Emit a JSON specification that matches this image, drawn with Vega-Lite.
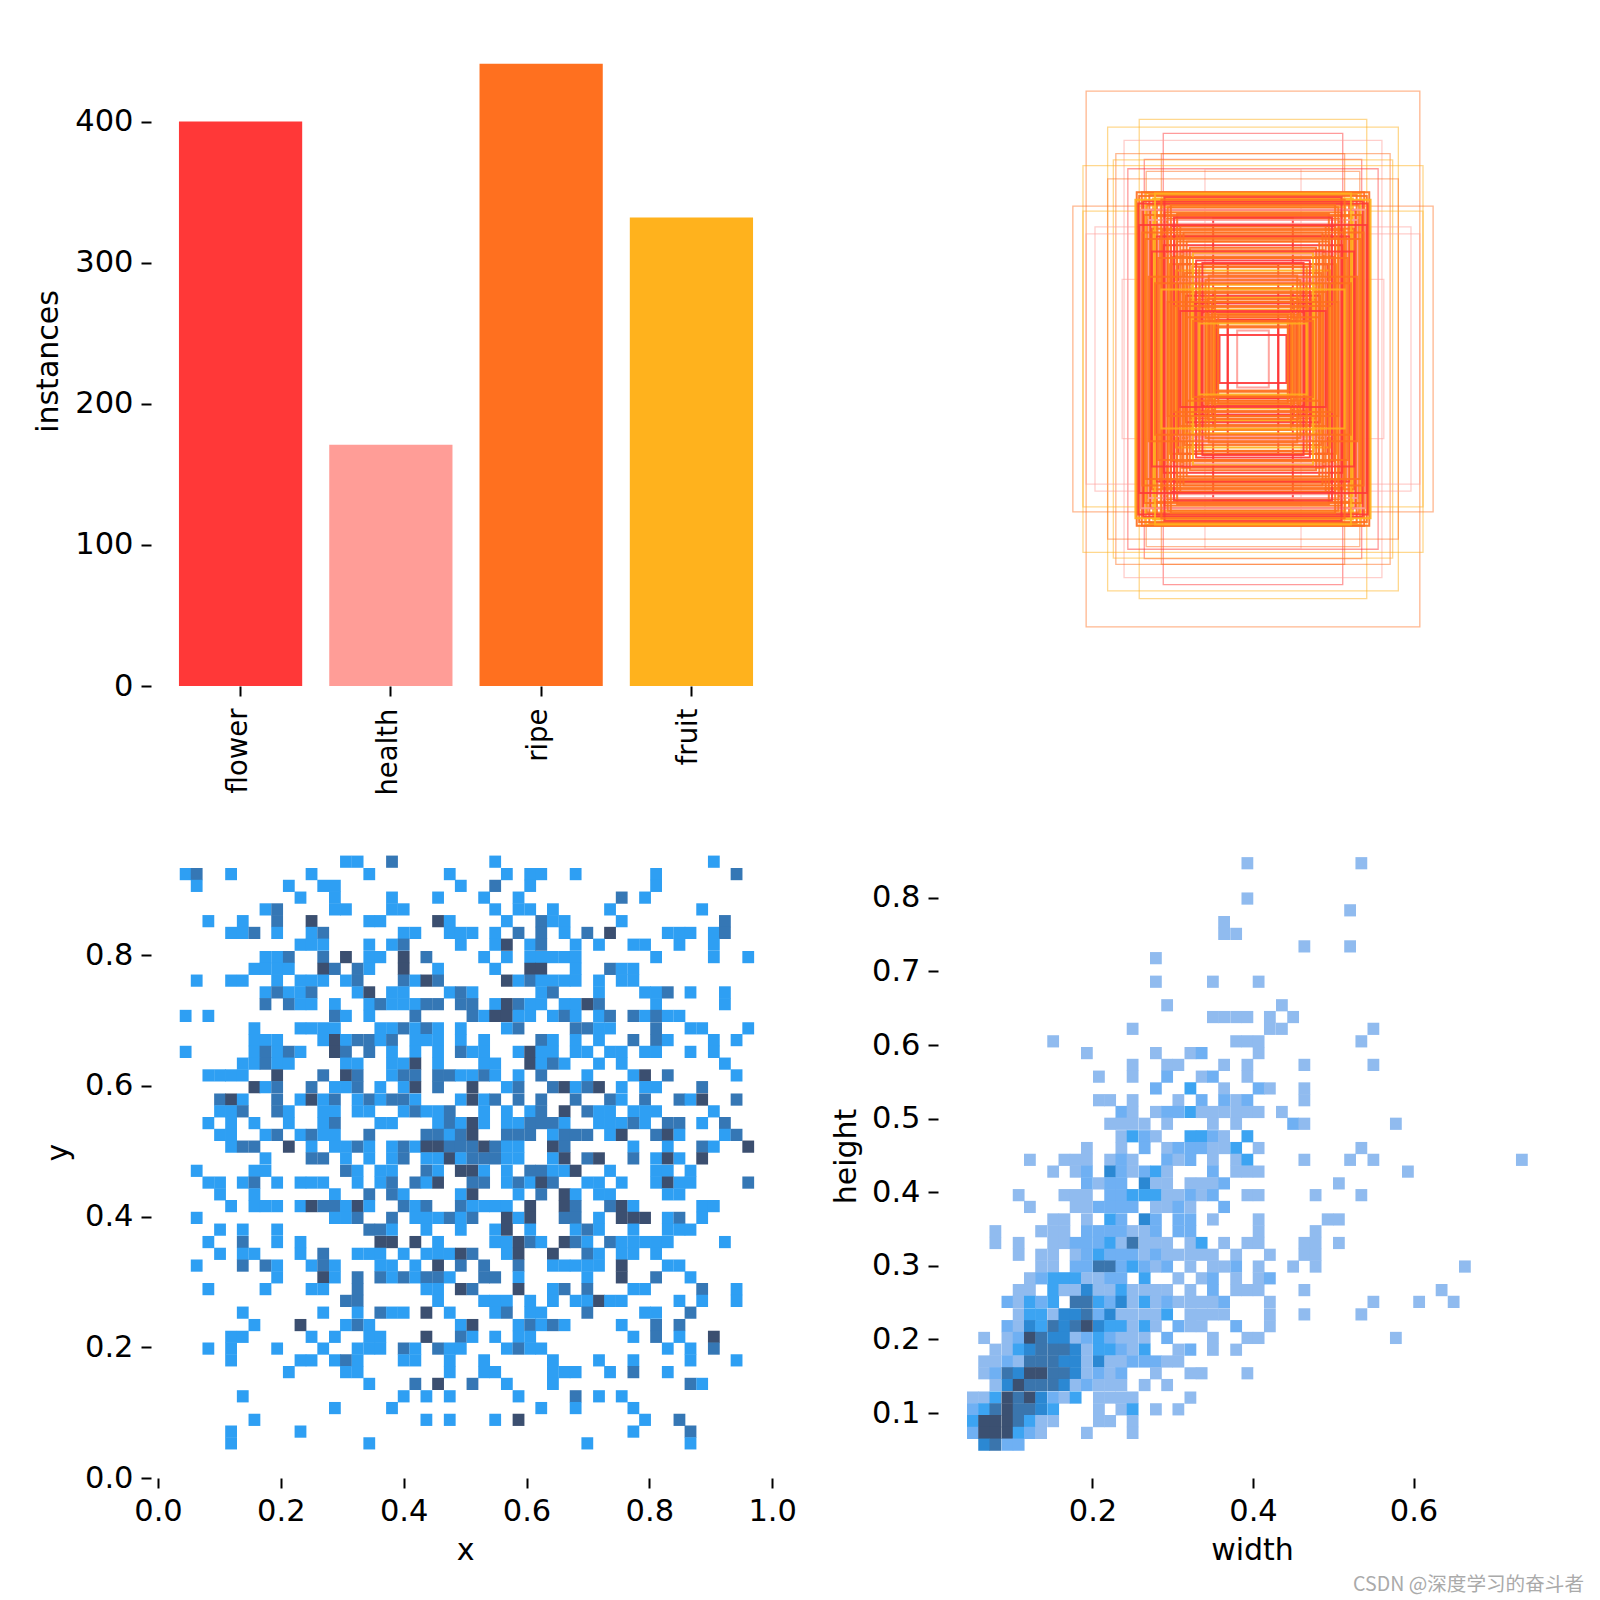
{
"$schema":"https://vega.github.io/schema/vega-lite/v6.json",
"padding":{"left":33,"top":43,"right":0,"bottom":0},
"background":"white",
"title":{"text":"CSDN @深度学习的奋斗者","orient":"bottom","anchor":"end","font":"Noto Sans CJK SC","fontSize":19.6,"fontWeight":"normal","color":"#aaaaaa","offset":10,"dx":7},
"config":{"view":{"stroke":null},"axis":{"domain":false,"grid":false,"tickColor":"black","tickSize":10,"tickWidth":2,"labelFont":"DejaVu Sans","titleFont":"DejaVu Sans","labelFontSize":30.5,"titleFontSize":30,"labelColor":"black","titleColor":"black","titleFontWeight":"normal","labelPadding":8,"labelOverlap":false}},
"datasets":{
"bars":[{"name":"flower","count":400},{"name":"health","count":171},{"name":"ripe","count":441},{"name":"fruit","count":332}],
"boxes":[
{"cls":"ripe","x1":0.236,"x2":0.764,"y1":0.076,"y2":0.924},{"cls":"fruit","x1":0.32,"x2":0.68,"y1":0.121,"y2":0.879},{"cls":"fruit","x1":0.27,"x2":0.73,"y1":0.133,"y2":0.867},{"cls":"flower","x1":0.358,"x2":0.642,"y1":0.143,"y2":0.857},{"cls":"health","x1":0.296,"x2":0.704,"y1":0.154,"y2":0.846},{"cls":"ripe","x1":0.283,"x2":0.717,"y1":0.175,"y2":0.825},{"cls":"ripe","x1":0.355,"x2":0.645,"y1":0.175,"y2":0.825},{"cls":"flower","x1":0.328,"x2":0.672,"y1":0.184,"y2":0.816},{"cls":"fruit","x1":0.231,"x2":0.769,"y1":0.194,"y2":0.806},{"cls":"fruit","x1":0.279,"x2":0.721,"y1":0.185,"y2":0.815},{"cls":"flower","x1":0.302,"x2":0.698,"y1":0.199,"y2":0.801},{"cls":"health","x1":0.424,"x2":0.576,"y1":0.199,"y2":0.801},{"cls":"ripe","x1":0.331,"x2":0.669,"y1":0.203,"y2":0.797},{"cls":"ripe","x1":0.27,"x2":0.73,"y1":0.215,"y2":0.785},{"cls":"ripe","x1":0.215,"x2":0.785,"y1":0.258,"y2":0.742},{"cls":"fruit","x1":0.231,"x2":0.769,"y1":0.266,"y2":0.734},{"cls":"health","x1":0.25,"x2":0.75,"y1":0.291,"y2":0.709},{"cls":"health","x1":0.236,"x2":0.764,"y1":0.302,"y2":0.698},{"cls":"health","x1":0.293,"x2":0.707,"y1":0.374,"y2":0.626},{"cls":"flower","x1":0.437,"x2":0.563,"y1":0.277,"y2":0.723},{"cls":"flower","x1":0.46,"x2":0.54,"y1":0.35,"y2":0.65},{"cls":"health","x1":0.475,"x2":0.525,"y1":0.455,"y2":0.545},{"cls":"flower","x1":0.46,"x2":0.54,"y1":0.438,"y2":0.562},{"cls":"flower","x1":0.447,"x2":0.553,"y1":0.462,"y2":0.538},
{"cls":"ripe","x1":0.444,"x2":0.556,"y1":0.448,"y2":0.552},{"cls":"flower","x1":0.442,"x2":0.558,"y1":0.438,"y2":0.562},{"cls":"ripe","x1":0.44,"x2":0.56,"y1":0.45,"y2":0.55},{"cls":"fruit","x1":0.438,"x2":0.562,"y1":0.428,"y2":0.572},{"cls":"ripe","x1":0.436,"x2":0.564,"y1":0.442,"y2":0.558},{"cls":"health","x1":0.434,"x2":0.566,"y1":0.416,"y2":0.584},{"cls":"ripe","x1":0.432,"x2":0.568,"y1":0.434,"y2":0.566},{"cls":"flower","x1":0.43,"x2":0.57,"y1":0.44,"y2":0.56},{"cls":"ripe","x1":0.428,"x2":0.572,"y1":0.404,"y2":0.596},{"cls":"fruit","x1":0.426,"x2":0.574,"y1":0.422,"y2":0.578},{"cls":"ripe","x1":0.424,"x2":0.576,"y1":0.43,"y2":0.57},{"cls":"health","x1":0.422,"x2":0.578,"y1":0.392,"y2":0.608},{"cls":"ripe","x1":0.42,"x2":0.58,"y1":0.41,"y2":0.59},{"cls":"flower","x1":0.418,"x2":0.582,"y1":0.426,"y2":0.574},{"cls":"ripe","x1":0.416,"x2":0.584,"y1":0.382,"y2":0.618},{"cls":"fruit","x1":0.414,"x2":0.586,"y1":0.402,"y2":0.598},{"cls":"ripe","x1":0.412,"x2":0.588,"y1":0.418,"y2":0.582},{"cls":"health","x1":0.41,"x2":0.59,"y1":0.368,"y2":0.632},{"cls":"ripe","x1":0.408,"x2":0.592,"y1":0.396,"y2":0.604},{"cls":"flower","x1":0.406,"x2":0.594,"y1":0.412,"y2":0.588},{"cls":"ripe","x1":0.404,"x2":0.596,"y1":0.354,"y2":0.646},{"cls":"fruit","x1":0.402,"x2":0.598,"y1":0.388,"y2":0.612},{"cls":"ripe","x1":0.4,"x2":0.6,"y1":0.406,"y2":0.594},{"cls":"health","x1":0.398,"x2":0.602,"y1":0.376,"y2":0.624},{"cls":"ripe","x1":0.396,"x2":0.604,"y1":0.34,"y2":0.66},{"cls":"flower","x1":0.394,"x2":0.606,"y1":0.4,"y2":0.6},{"cls":"ripe","x1":0.392,"x2":0.608,"y1":0.364,"y2":0.636},{"cls":"fruit","x1":0.39,"x2":0.61,"y1":0.382,"y2":0.618},{"cls":"ripe","x1":0.388,"x2":0.612,"y1":0.328,"y2":0.672},{"cls":"health","x1":0.386,"x2":0.614,"y1":0.372,"y2":0.628},{"cls":"ripe","x1":0.384,"x2":0.616,"y1":0.394,"y2":0.606},{"cls":"flower","x1":0.382,"x2":0.618,"y1":0.35,"y2":0.65},{"cls":"ripe","x1":0.38,"x2":0.62,"y1":0.314,"y2":0.686},{"cls":"fruit","x1":0.378,"x2":0.622,"y1":0.36,"y2":0.64},{"cls":"ripe","x1":0.376,"x2":0.624,"y1":0.304,"y2":0.696},{"cls":"health","x1":0.374,"x2":0.626,"y1":0.378,"y2":0.622},{"cls":"ripe","x1":0.372,"x2":0.628,"y1":0.338,"y2":0.662},{"cls":"flower","x1":0.37,"x2":0.63,"y1":0.29,"y2":0.71},{"cls":"ripe","x1":0.368,"x2":0.632,"y1":0.35,"y2":0.65},{"cls":"fruit","x1":0.366,"x2":0.634,"y1":0.308,"y2":0.692},{"cls":"ripe","x1":0.364,"x2":0.636,"y1":0.278,"y2":0.722},{"cls":"health","x1":0.362,"x2":0.638,"y1":0.334,"y2":0.666},
{"cls":"ripe","x1":0.36,"x2":0.64,"y1":0.268,"y2":0.732},{"cls":"flower","x1":0.358,"x2":0.642,"y1":0.32,"y2":0.68},{"cls":"ripe","x1":0.356,"x2":0.644,"y1":0.296,"y2":0.704},{"cls":"fruit","x1":0.354,"x2":0.646,"y1":0.26,"y2":0.74},{"cls":"ripe","x1":0.352,"x2":0.648,"y1":0.306,"y2":0.694},{"cls":"health","x1":0.35,"x2":0.65,"y1":0.286,"y2":0.714},{"cls":"ripe","x1":0.348,"x2":0.652,"y1":0.252,"y2":0.748},{"cls":"flower","x1":0.346,"x2":0.654,"y1":0.306,"y2":0.694},{"cls":"ripe","x1":0.344,"x2":0.656,"y1":0.274,"y2":0.726},{"cls":"fruit","x1":0.342,"x2":0.658,"y1":0.246,"y2":0.754},{"cls":"ripe","x1":0.34,"x2":0.66,"y1":0.294,"y2":0.706},{"cls":"flower","x1":0.338,"x2":0.662,"y1":0.264,"y2":0.736},{"cls":"ripe","x1":0.336,"x2":0.664,"y1":0.24,"y2":0.76},{"cls":"health","x1":0.334,"x2":0.666,"y1":0.28,"y2":0.72},{"cls":"ripe","x1":0.332,"x2":0.668,"y1":0.256,"y2":0.744},{"cls":"fruit","x1":0.33,"x2":0.67,"y1":0.238,"y2":0.762},{"cls":"ripe","x1":0.328,"x2":0.672,"y1":0.272,"y2":0.728},{"cls":"flower","x1":0.326,"x2":0.674,"y1":0.25,"y2":0.75},{"cls":"ripe","x1":0.324,"x2":0.676,"y1":0.236,"y2":0.764},{"cls":"health","x1":0.322,"x2":0.678,"y1":0.264,"y2":0.736},{"cls":"ripe","x1":0.32,"x2":0.68,"y1":0.242,"y2":0.758},{"cls":"flower","x1":0.318,"x2":0.682,"y1":0.254,"y2":0.746},{"cls":"ripe","x1":0.316,"x2":0.684,"y1":0.236,"y2":0.764},{"cls":"fruit","x1":0.314,"x2":0.686,"y1":0.248,"y2":0.752},
{"cls":"ripe","x1":0.39,"x2":0.61,"y1":0.3,"y2":0.7},{"cls":"ripe","x1":0.4,"x2":0.6,"y1":0.324,"y2":0.676},{"cls":"flower","x1":0.41,"x2":0.59,"y1":0.344,"y2":0.656},{"cls":"ripe","x1":0.38,"x2":0.62,"y1":0.27,"y2":0.73},{"cls":"ripe","x1":0.37,"x2":0.63,"y1":0.256,"y2":0.744},{"cls":"flower","x1":0.36,"x2":0.64,"y1":0.244,"y2":0.756},{"cls":"ripe","x1":0.425,"x2":0.575,"y1":0.375,"y2":0.625},{"cls":"ripe","x1":0.415,"x2":0.585,"y1":0.355,"y2":0.645},{"cls":"fruit","x1":0.405,"x2":0.595,"y1":0.332,"y2":0.668},{"cls":"ripe","x1":0.395,"x2":0.605,"y1":0.314,"y2":0.686},{"cls":"ripe","x1":0.385,"x2":0.615,"y1":0.29,"y2":0.71},{"cls":"flower","x1":0.375,"x2":0.625,"y1":0.276,"y2":0.724},{"cls":"ripe","x1":0.365,"x2":0.635,"y1":0.26,"y2":0.74},{"cls":"ripe","x1":0.355,"x2":0.645,"y1":0.248,"y2":0.752},{"cls":"fruit","x1":0.345,"x2":0.655,"y1":0.238,"y2":0.762},{"cls":"ripe","x1":0.44,"x2":0.56,"y1":0.388,"y2":0.612},{"cls":"ripe","x1":0.43,"x2":0.57,"y1":0.368,"y2":0.632},{"cls":"flower","x1":0.42,"x2":0.58,"y1":0.348,"y2":0.652},{"cls":"ripe","x1":0.435,"x2":0.565,"y1":0.41,"y2":0.59},{"cls":"ripe","x1":0.445,"x2":0.555,"y1":0.43,"y2":0.57},{"cls":"ripe","x1":0.35,"x2":0.65,"y1":0.34,"y2":0.66},{"cls":"flower","x1":0.34,"x2":0.66,"y1":0.33,"y2":0.67},{"cls":"ripe","x1":0.33,"x2":0.67,"y1":0.31,"y2":0.69},{"cls":"ripe","x1":0.325,"x2":0.675,"y1":0.3,"y2":0.7},{"cls":"flower","x1":0.32,"x2":0.68,"y1":0.288,"y2":0.712},{"cls":"ripe","x1":0.335,"x2":0.665,"y1":0.37,"y2":0.63},{"cls":"ripe","x1":0.345,"x2":0.655,"y1":0.38,"y2":0.62},{"cls":"fruit","x1":0.355,"x2":0.645,"y1":0.39,"y2":0.61},{"cls":"ripe","x1":0.365,"x2":0.635,"y1":0.41,"y2":0.59},{"cls":"ripe","x1":0.375,"x2":0.625,"y1":0.416,"y2":0.584},{"cls":"flower","x1":0.385,"x2":0.615,"y1":0.424,"y2":0.576},{"cls":"ripe","x1":0.395,"x2":0.605,"y1":0.434,"y2":0.566},{"cls":"ripe","x1":0.405,"x2":0.595,"y1":0.44,"y2":0.56},{"cls":"fruit","x1":0.415,"x2":0.585,"y1":0.444,"y2":0.556}
],
"xy":[
{"x":0.306,"y":0.943,"n":1},{"x":0.325,"y":0.943,"n":1},{"x":0.381,"y":0.943,"n":2},{"x":0.549,"y":0.943,"n":1},{"x":0.905,"y":0.943,"n":1},
{"x":0.045,"y":0.924,"n":1},{"x":0.063,"y":0.924,"n":2},{"x":0.119,"y":0.924,"n":1},{"x":0.25,"y":0.924,"n":1},{"x":0.344,"y":0.924,"n":1},{"x":0.475,"y":0.924,"n":1},{"x":0.568,"y":0.924,"n":1},{"x":0.606,"y":0.924,"n":1},{"x":0.624,"y":0.924,"n":1},{"x":0.68,"y":0.924,"n":1},{"x":0.811,"y":0.924,"n":1},{"x":0.942,"y":0.924,"n":2},
{"x":0.063,"y":0.906,"n":1},{"x":0.213,"y":0.906,"n":1},{"x":0.269,"y":0.906,"n":1},{"x":0.288,"y":0.906,"n":1},{"x":0.493,"y":0.906,"n":1},{"x":0.549,"y":0.906,"n":2},{"x":0.606,"y":0.906,"n":1},{"x":0.811,"y":0.906,"n":1},
{"x":0.232,"y":0.888,"n":1},{"x":0.288,"y":0.888,"n":1},{"x":0.381,"y":0.888,"n":1},{"x":0.456,"y":0.888,"n":1},{"x":0.531,"y":0.888,"n":1},{"x":0.587,"y":0.888,"n":1},{"x":0.755,"y":0.888,"n":2},{"x":0.793,"y":0.888,"n":1},
{"x":0.175,"y":0.87,"n":1},{"x":0.194,"y":0.87,"n":2},{"x":0.288,"y":0.87,"n":1},{"x":0.306,"y":0.87,"n":1},{"x":0.381,"y":0.87,"n":1},{"x":0.4,"y":0.87,"n":1},{"x":0.549,"y":0.87,"n":1},{"x":0.587,"y":0.87,"n":1},{"x":0.606,"y":0.87,"n":1},{"x":0.643,"y":0.87,"n":1},{"x":0.736,"y":0.87,"n":1},{"x":0.886,"y":0.87,"n":1},
{"x":0.082,"y":0.852,"n":1},{"x":0.138,"y":0.852,"n":1},{"x":0.194,"y":0.852,"n":2},{"x":0.25,"y":0.852,"n":3},{"x":0.344,"y":0.852,"n":1},{"x":0.362,"y":0.852,"n":1},{"x":0.456,"y":0.852,"n":3},{"x":0.475,"y":0.852,"n":1},{"x":0.568,"y":0.852,"n":1},{"x":0.624,"y":0.852,"n":2},{"x":0.643,"y":0.852,"n":1},{"x":0.662,"y":0.852,"n":1},{"x":0.755,"y":0.852,"n":1},{"x":0.923,"y":0.852,"n":2},
{"x":0.119,"y":0.834,"n":1},{"x":0.138,"y":0.834,"n":1},{"x":0.157,"y":0.834,"n":2},{"x":0.194,"y":0.834,"n":1},{"x":0.25,"y":0.834,"n":1},{"x":0.269,"y":0.834,"n":2},{"x":0.4,"y":0.834,"n":1},{"x":0.419,"y":0.834,"n":1},{"x":0.475,"y":0.834,"n":1},{"x":0.493,"y":0.834,"n":1},{"x":0.512,"y":0.834,"n":1},{"x":0.549,"y":0.834,"n":1},{"x":0.587,"y":0.834,"n":2},{"x":0.624,"y":0.834,"n":2},{"x":0.662,"y":0.834,"n":1},{"x":0.699,"y":0.834,"n":2},{"x":0.736,"y":0.834,"n":3},{"x":0.83,"y":0.834,"n":1},{"x":0.849,"y":0.834,"n":1},{"x":0.867,"y":0.834,"n":1},{"x":0.905,"y":0.834,"n":1},{"x":0.923,"y":0.834,"n":2},
{"x":0.232,"y":0.816,"n":1},{"x":0.25,"y":0.816,"n":1},{"x":0.269,"y":0.816,"n":1},{"x":0.344,"y":0.816,"n":1},{"x":0.381,"y":0.816,"n":1},{"x":0.4,"y":0.816,"n":2},{"x":0.493,"y":0.816,"n":1},{"x":0.549,"y":0.816,"n":1},{"x":0.568,"y":0.816,"n":3},{"x":0.606,"y":0.816,"n":1},{"x":0.624,"y":0.816,"n":2},{"x":0.68,"y":0.816,"n":1},{"x":0.718,"y":0.816,"n":1},{"x":0.774,"y":0.816,"n":1},{"x":0.793,"y":0.816,"n":1},{"x":0.849,"y":0.816,"n":1},{"x":0.905,"y":0.816,"n":1},
{"x":0.175,"y":0.797,"n":1},{"x":0.194,"y":0.797,"n":1},{"x":0.213,"y":0.797,"n":2},{"x":0.269,"y":0.797,"n":2},{"x":0.306,"y":0.797,"n":3},{"x":0.344,"y":0.797,"n":1},{"x":0.362,"y":0.797,"n":1},{"x":0.4,"y":0.797,"n":3},{"x":0.437,"y":0.797,"n":2},{"x":0.531,"y":0.797,"n":1},{"x":0.568,"y":0.797,"n":1},{"x":0.606,"y":0.797,"n":1},{"x":0.624,"y":0.797,"n":1},{"x":0.643,"y":0.797,"n":1},{"x":0.662,"y":0.797,"n":1},{"x":0.68,"y":0.797,"n":1},{"x":0.811,"y":0.797,"n":1},{"x":0.905,"y":0.797,"n":1},{"x":0.961,"y":0.797,"n":1},
{"x":0.157,"y":0.779,"n":1},{"x":0.175,"y":0.779,"n":1},{"x":0.194,"y":0.779,"n":1},{"x":0.213,"y":0.779,"n":1},{"x":0.269,"y":0.779,"n":3},{"x":0.288,"y":0.779,"n":2},{"x":0.325,"y":0.779,"n":2},{"x":0.344,"y":0.779,"n":1},{"x":0.4,"y":0.779,"n":3},{"x":0.456,"y":0.779,"n":1},{"x":0.549,"y":0.779,"n":1},{"x":0.606,"y":0.779,"n":3},{"x":0.624,"y":0.779,"n":3},{"x":0.68,"y":0.779,"n":1},{"x":0.736,"y":0.779,"n":2},{"x":0.755,"y":0.779,"n":1},{"x":0.774,"y":0.779,"n":1},
{"x":0.063,"y":0.761,"n":1},{"x":0.119,"y":0.761,"n":1},{"x":0.138,"y":0.761,"n":1},{"x":0.194,"y":0.761,"n":1},{"x":0.232,"y":0.761,"n":1},{"x":0.25,"y":0.761,"n":1},{"x":0.269,"y":0.761,"n":1},{"x":0.306,"y":0.761,"n":1},{"x":0.325,"y":0.761,"n":2},{"x":0.4,"y":0.761,"n":2},{"x":0.419,"y":0.761,"n":1},{"x":0.437,"y":0.761,"n":3},{"x":0.456,"y":0.761,"n":2},{"x":0.568,"y":0.761,"n":3},{"x":0.587,"y":0.761,"n":1},{"x":0.606,"y":0.761,"n":2},{"x":0.624,"y":0.761,"n":1},{"x":0.643,"y":0.761,"n":1},{"x":0.662,"y":0.761,"n":1},{"x":0.68,"y":0.761,"n":1},{"x":0.718,"y":0.761,"n":1},{"x":0.755,"y":0.761,"n":1},{"x":0.774,"y":0.761,"n":1},
{"x":0.175,"y":0.743,"n":1},{"x":0.194,"y":0.743,"n":2},{"x":0.213,"y":0.743,"n":1},{"x":0.232,"y":0.743,"n":1},{"x":0.25,"y":0.743,"n":2},{"x":0.325,"y":0.743,"n":1},{"x":0.344,"y":0.743,"n":3},{"x":0.381,"y":0.743,"n":1},{"x":0.4,"y":0.743,"n":1},{"x":0.475,"y":0.743,"n":1},{"x":0.493,"y":0.743,"n":2},{"x":0.512,"y":0.743,"n":1},{"x":0.624,"y":0.743,"n":1},{"x":0.643,"y":0.743,"n":2},{"x":0.718,"y":0.743,"n":1},{"x":0.793,"y":0.743,"n":1},{"x":0.811,"y":0.743,"n":1},{"x":0.83,"y":0.743,"n":2},{"x":0.867,"y":0.743,"n":1},{"x":0.923,"y":0.743,"n":1},
{"x":0.175,"y":0.725,"n":2},{"x":0.213,"y":0.725,"n":2},{"x":0.232,"y":0.725,"n":1},{"x":0.25,"y":0.725,"n":1},{"x":0.288,"y":0.725,"n":1},{"x":0.344,"y":0.725,"n":1},{"x":0.362,"y":0.725,"n":2},{"x":0.381,"y":0.725,"n":1},{"x":0.4,"y":0.725,"n":1},{"x":0.419,"y":0.725,"n":1},{"x":0.437,"y":0.725,"n":2},{"x":0.456,"y":0.725,"n":2},{"x":0.493,"y":0.725,"n":2},{"x":0.512,"y":0.725,"n":2},{"x":0.549,"y":0.725,"n":1},{"x":0.568,"y":0.725,"n":3},{"x":0.587,"y":0.725,"n":2},{"x":0.606,"y":0.725,"n":1},{"x":0.624,"y":0.725,"n":1},{"x":0.662,"y":0.725,"n":1},{"x":0.68,"y":0.725,"n":1},{"x":0.699,"y":0.725,"n":3},{"x":0.718,"y":0.725,"n":2},{"x":0.811,"y":0.725,"n":1},{"x":0.923,"y":0.725,"n":1},
{"x":0.045,"y":0.707,"n":1},{"x":0.082,"y":0.707,"n":1},{"x":0.288,"y":0.707,"n":2},{"x":0.306,"y":0.707,"n":1},{"x":0.344,"y":0.707,"n":1},{"x":0.419,"y":0.707,"n":2},{"x":0.512,"y":0.707,"n":2},{"x":0.531,"y":0.707,"n":1},{"x":0.549,"y":0.707,"n":3},{"x":0.568,"y":0.707,"n":3},{"x":0.587,"y":0.707,"n":1},{"x":0.606,"y":0.707,"n":1},{"x":0.643,"y":0.707,"n":1},{"x":0.662,"y":0.707,"n":2},{"x":0.68,"y":0.707,"n":1},{"x":0.718,"y":0.707,"n":1},{"x":0.736,"y":0.707,"n":2},{"x":0.774,"y":0.707,"n":2},{"x":0.793,"y":0.707,"n":1},{"x":0.811,"y":0.707,"n":2},{"x":0.83,"y":0.707,"n":1},{"x":0.849,"y":0.707,"n":1},
{"x":0.157,"y":0.688,"n":1},{"x":0.232,"y":0.688,"n":1},{"x":0.25,"y":0.688,"n":1},{"x":0.269,"y":0.688,"n":1},{"x":0.288,"y":0.688,"n":1},{"x":0.362,"y":0.688,"n":1},{"x":0.381,"y":0.688,"n":1},{"x":0.4,"y":0.688,"n":2},{"x":0.419,"y":0.688,"n":1},{"x":0.437,"y":0.688,"n":2},{"x":0.456,"y":0.688,"n":1},{"x":0.493,"y":0.688,"n":1},{"x":0.568,"y":0.688,"n":1},{"x":0.587,"y":0.688,"n":2},{"x":0.68,"y":0.688,"n":2},{"x":0.699,"y":0.688,"n":2},{"x":0.718,"y":0.688,"n":1},{"x":0.736,"y":0.688,"n":1},{"x":0.811,"y":0.688,"n":2},{"x":0.867,"y":0.688,"n":1},{"x":0.886,"y":0.688,"n":1},{"x":0.961,"y":0.688,"n":1},
{"x":0.157,"y":0.67,"n":1},{"x":0.175,"y":0.67,"n":1},{"x":0.194,"y":0.67,"n":1},{"x":0.269,"y":0.67,"n":1},{"x":0.288,"y":0.67,"n":3},{"x":0.306,"y":0.67,"n":1},{"x":0.325,"y":0.67,"n":2},{"x":0.344,"y":0.67,"n":2},{"x":0.362,"y":0.67,"n":1},{"x":0.381,"y":0.67,"n":2},{"x":0.419,"y":0.67,"n":1},{"x":0.437,"y":0.67,"n":1},{"x":0.456,"y":0.67,"n":1},{"x":0.493,"y":0.67,"n":1},{"x":0.531,"y":0.67,"n":1},{"x":0.624,"y":0.67,"n":2},{"x":0.643,"y":0.67,"n":1},{"x":0.68,"y":0.67,"n":1},{"x":0.718,"y":0.67,"n":1},{"x":0.774,"y":0.67,"n":2},{"x":0.811,"y":0.67,"n":2},{"x":0.83,"y":0.67,"n":1},{"x":0.905,"y":0.67,"n":1},{"x":0.942,"y":0.67,"n":1},
{"x":0.045,"y":0.652,"n":1},{"x":0.157,"y":0.652,"n":1},{"x":0.175,"y":0.652,"n":2},{"x":0.194,"y":0.652,"n":1},{"x":0.213,"y":0.652,"n":2},{"x":0.232,"y":0.652,"n":1},{"x":0.288,"y":0.652,"n":3},{"x":0.306,"y":0.652,"n":2},{"x":0.344,"y":0.652,"n":2},{"x":0.381,"y":0.652,"n":1},{"x":0.419,"y":0.652,"n":1},{"x":0.456,"y":0.652,"n":1},{"x":0.493,"y":0.652,"n":2},{"x":0.512,"y":0.652,"n":1},{"x":0.531,"y":0.652,"n":1},{"x":0.587,"y":0.652,"n":1},{"x":0.606,"y":0.652,"n":3},{"x":0.624,"y":0.652,"n":1},{"x":0.643,"y":0.652,"n":1},{"x":0.68,"y":0.652,"n":1},{"x":0.699,"y":0.652,"n":1},{"x":0.736,"y":0.652,"n":1},{"x":0.755,"y":0.652,"n":1},{"x":0.793,"y":0.652,"n":1},{"x":0.811,"y":0.652,"n":1},{"x":0.867,"y":0.652,"n":1},{"x":0.905,"y":0.652,"n":1},
{"x":0.138,"y":0.634,"n":1},{"x":0.157,"y":0.634,"n":1},{"x":0.175,"y":0.634,"n":2},{"x":0.194,"y":0.634,"n":1},{"x":0.213,"y":0.634,"n":1},{"x":0.306,"y":0.634,"n":1},{"x":0.325,"y":0.634,"n":1},{"x":0.381,"y":0.634,"n":1},{"x":0.4,"y":0.634,"n":1},{"x":0.419,"y":0.634,"n":3},{"x":0.456,"y":0.634,"n":1},{"x":0.531,"y":0.634,"n":1},{"x":0.549,"y":0.634,"n":1},{"x":0.606,"y":0.634,"n":3},{"x":0.624,"y":0.634,"n":1},{"x":0.643,"y":0.634,"n":2},{"x":0.662,"y":0.634,"n":1},{"x":0.718,"y":0.634,"n":1},{"x":0.755,"y":0.634,"n":1},{"x":0.923,"y":0.634,"n":1},
{"x":0.082,"y":0.616,"n":1},{"x":0.101,"y":0.616,"n":1},{"x":0.119,"y":0.616,"n":1},{"x":0.138,"y":0.616,"n":1},{"x":0.194,"y":0.616,"n":3},{"x":0.269,"y":0.616,"n":2},{"x":0.306,"y":0.616,"n":3},{"x":0.325,"y":0.616,"n":2},{"x":0.381,"y":0.616,"n":1},{"x":0.4,"y":0.616,"n":2},{"x":0.419,"y":0.616,"n":2},{"x":0.456,"y":0.616,"n":2},{"x":0.475,"y":0.616,"n":2},{"x":0.493,"y":0.616,"n":1},{"x":0.512,"y":0.616,"n":1},{"x":0.531,"y":0.616,"n":2},{"x":0.549,"y":0.616,"n":1},{"x":0.587,"y":0.616,"n":1},{"x":0.624,"y":0.616,"n":2},{"x":0.699,"y":0.616,"n":1},{"x":0.774,"y":0.616,"n":1},{"x":0.793,"y":0.616,"n":3},{"x":0.83,"y":0.616,"n":2},{"x":0.942,"y":0.616,"n":1},
{"x":0.157,"y":0.598,"n":3},{"x":0.175,"y":0.598,"n":1},{"x":0.194,"y":0.598,"n":2},{"x":0.25,"y":0.598,"n":2},{"x":0.288,"y":0.598,"n":1},{"x":0.306,"y":0.598,"n":1},{"x":0.325,"y":0.598,"n":2},{"x":0.362,"y":0.598,"n":1},{"x":0.4,"y":0.598,"n":1},{"x":0.419,"y":0.598,"n":3},{"x":0.456,"y":0.598,"n":2},{"x":0.512,"y":0.598,"n":3},{"x":0.568,"y":0.598,"n":1},{"x":0.587,"y":0.598,"n":2},{"x":0.643,"y":0.598,"n":2},{"x":0.662,"y":0.598,"n":3},{"x":0.68,"y":0.598,"n":1},{"x":0.699,"y":0.598,"n":2},{"x":0.718,"y":0.598,"n":3},{"x":0.755,"y":0.598,"n":1},{"x":0.793,"y":0.598,"n":1},{"x":0.811,"y":0.598,"n":1},{"x":0.886,"y":0.598,"n":2},
{"x":0.101,"y":0.579,"n":2},{"x":0.119,"y":0.579,"n":3},{"x":0.138,"y":0.579,"n":1},{"x":0.194,"y":0.579,"n":2},{"x":0.232,"y":0.579,"n":1},{"x":0.25,"y":0.579,"n":3},{"x":0.269,"y":0.579,"n":1},{"x":0.288,"y":0.579,"n":2},{"x":0.325,"y":0.579,"n":1},{"x":0.344,"y":0.579,"n":2},{"x":0.362,"y":0.579,"n":1},{"x":0.381,"y":0.579,"n":2},{"x":0.4,"y":0.579,"n":2},{"x":0.419,"y":0.579,"n":1},{"x":0.493,"y":0.579,"n":1},{"x":0.512,"y":0.579,"n":3},{"x":0.531,"y":0.579,"n":1},{"x":0.549,"y":0.579,"n":2},{"x":0.587,"y":0.579,"n":2},{"x":0.624,"y":0.579,"n":2},{"x":0.68,"y":0.579,"n":2},{"x":0.736,"y":0.579,"n":2},{"x":0.755,"y":0.579,"n":1},{"x":0.793,"y":0.579,"n":2},{"x":0.849,"y":0.579,"n":2},{"x":0.867,"y":0.579,"n":1},{"x":0.886,"y":0.579,"n":3},{"x":0.942,"y":0.579,"n":2},
{"x":0.101,"y":0.561,"n":1},{"x":0.119,"y":0.561,"n":1},{"x":0.138,"y":0.561,"n":2},{"x":0.194,"y":0.561,"n":2},{"x":0.213,"y":0.561,"n":1},{"x":0.269,"y":0.561,"n":1},{"x":0.288,"y":0.561,"n":1},{"x":0.325,"y":0.561,"n":1},{"x":0.344,"y":0.561,"n":1},{"x":0.4,"y":0.561,"n":1},{"x":0.419,"y":0.561,"n":2},{"x":0.437,"y":0.561,"n":1},{"x":0.456,"y":0.561,"n":1},{"x":0.475,"y":0.561,"n":2},{"x":0.531,"y":0.561,"n":1},{"x":0.568,"y":0.561,"n":1},{"x":0.606,"y":0.561,"n":1},{"x":0.624,"y":0.561,"n":2},{"x":0.662,"y":0.561,"n":3},{"x":0.699,"y":0.561,"n":2},{"x":0.718,"y":0.561,"n":1},{"x":0.736,"y":0.561,"n":1},{"x":0.774,"y":0.561,"n":1},{"x":0.793,"y":0.561,"n":1},{"x":0.811,"y":0.561,"n":1},{"x":0.905,"y":0.561,"n":1},
{"x":0.082,"y":0.543,"n":1},{"x":0.119,"y":0.543,"n":1},{"x":0.157,"y":0.543,"n":1},{"x":0.213,"y":0.543,"n":1},{"x":0.269,"y":0.543,"n":1},{"x":0.288,"y":0.543,"n":2},{"x":0.362,"y":0.543,"n":1},{"x":0.381,"y":0.543,"n":1},{"x":0.456,"y":0.543,"n":1},{"x":0.475,"y":0.543,"n":2},{"x":0.493,"y":0.543,"n":1},{"x":0.512,"y":0.543,"n":3},{"x":0.531,"y":0.543,"n":1},{"x":0.568,"y":0.543,"n":1},{"x":0.587,"y":0.543,"n":1},{"x":0.606,"y":0.543,"n":2},{"x":0.624,"y":0.543,"n":2},{"x":0.643,"y":0.543,"n":2},{"x":0.662,"y":0.543,"n":1},{"x":0.718,"y":0.543,"n":1},{"x":0.736,"y":0.543,"n":1},{"x":0.755,"y":0.543,"n":1},{"x":0.774,"y":0.543,"n":2},{"x":0.793,"y":0.543,"n":1},{"x":0.83,"y":0.543,"n":2},{"x":0.849,"y":0.543,"n":2},{"x":0.886,"y":0.543,"n":1},{"x":0.923,"y":0.543,"n":2},
{"x":0.101,"y":0.525,"n":1},{"x":0.119,"y":0.525,"n":1},{"x":0.175,"y":0.525,"n":1},{"x":0.194,"y":0.525,"n":2},{"x":0.232,"y":0.525,"n":1},{"x":0.25,"y":0.525,"n":2},{"x":0.269,"y":0.525,"n":1},{"x":0.288,"y":0.525,"n":1},{"x":0.344,"y":0.525,"n":2},{"x":0.437,"y":0.525,"n":2},{"x":0.456,"y":0.525,"n":2},{"x":0.475,"y":0.525,"n":1},{"x":0.493,"y":0.525,"n":2},{"x":0.512,"y":0.525,"n":3},{"x":0.568,"y":0.525,"n":2},{"x":0.587,"y":0.525,"n":2},{"x":0.606,"y":0.525,"n":2},{"x":0.643,"y":0.525,"n":1},{"x":0.662,"y":0.525,"n":2},{"x":0.68,"y":0.525,"n":2},{"x":0.699,"y":0.525,"n":2},{"x":0.736,"y":0.525,"n":1},{"x":0.755,"y":0.525,"n":3},{"x":0.811,"y":0.525,"n":2},{"x":0.83,"y":0.525,"n":3},{"x":0.849,"y":0.525,"n":1},{"x":0.923,"y":0.525,"n":1},{"x":0.942,"y":0.525,"n":2},
{"x":0.119,"y":0.507,"n":1},{"x":0.138,"y":0.507,"n":2},{"x":0.157,"y":0.507,"n":2},{"x":0.213,"y":0.507,"n":3},{"x":0.25,"y":0.507,"n":1},{"x":0.288,"y":0.507,"n":1},{"x":0.306,"y":0.507,"n":1},{"x":0.325,"y":0.507,"n":2},{"x":0.344,"y":0.507,"n":1},{"x":0.381,"y":0.507,"n":1},{"x":0.4,"y":0.507,"n":2},{"x":0.419,"y":0.507,"n":1},{"x":0.437,"y":0.507,"n":3},{"x":0.456,"y":0.507,"n":3},{"x":0.475,"y":0.507,"n":2},{"x":0.493,"y":0.507,"n":2},{"x":0.512,"y":0.507,"n":2},{"x":0.531,"y":0.507,"n":3},{"x":0.549,"y":0.507,"n":2},{"x":0.568,"y":0.507,"n":1},{"x":0.587,"y":0.507,"n":1},{"x":0.643,"y":0.507,"n":3},{"x":0.662,"y":0.507,"n":2},{"x":0.774,"y":0.507,"n":1},{"x":0.83,"y":0.507,"n":1},{"x":0.886,"y":0.507,"n":2},{"x":0.905,"y":0.507,"n":1},{"x":0.961,"y":0.507,"n":3},
{"x":0.175,"y":0.489,"n":1},{"x":0.25,"y":0.489,"n":2},{"x":0.269,"y":0.489,"n":2},{"x":0.306,"y":0.489,"n":1},{"x":0.344,"y":0.489,"n":1},{"x":0.381,"y":0.489,"n":1},{"x":0.4,"y":0.489,"n":2},{"x":0.437,"y":0.489,"n":1},{"x":0.456,"y":0.489,"n":1},{"x":0.475,"y":0.489,"n":3},{"x":0.493,"y":0.489,"n":1},{"x":0.512,"y":0.489,"n":2},{"x":0.531,"y":0.489,"n":2},{"x":0.549,"y":0.489,"n":2},{"x":0.568,"y":0.489,"n":1},{"x":0.587,"y":0.489,"n":1},{"x":0.643,"y":0.489,"n":1},{"x":0.662,"y":0.489,"n":3},{"x":0.699,"y":0.489,"n":2},{"x":0.718,"y":0.489,"n":3},{"x":0.774,"y":0.489,"n":2},{"x":0.811,"y":0.489,"n":1},{"x":0.83,"y":0.489,"n":3},{"x":0.849,"y":0.489,"n":1},{"x":0.886,"y":0.489,"n":3},
{"x":0.063,"y":0.47,"n":1},{"x":0.157,"y":0.47,"n":1},{"x":0.175,"y":0.47,"n":1},{"x":0.306,"y":0.47,"n":2},{"x":0.325,"y":0.47,"n":1},{"x":0.362,"y":0.47,"n":1},{"x":0.381,"y":0.47,"n":1},{"x":0.437,"y":0.47,"n":2},{"x":0.456,"y":0.47,"n":1},{"x":0.493,"y":0.47,"n":3},{"x":0.512,"y":0.47,"n":3},{"x":0.531,"y":0.47,"n":1},{"x":0.568,"y":0.47,"n":1},{"x":0.606,"y":0.47,"n":2},{"x":0.624,"y":0.47,"n":2},{"x":0.643,"y":0.47,"n":1},{"x":0.662,"y":0.47,"n":1},{"x":0.68,"y":0.47,"n":3},{"x":0.736,"y":0.47,"n":1},{"x":0.811,"y":0.47,"n":1},{"x":0.83,"y":0.47,"n":1},{"x":0.867,"y":0.47,"n":1},
{"x":0.082,"y":0.452,"n":1},{"x":0.101,"y":0.452,"n":1},{"x":0.138,"y":0.452,"n":1},{"x":0.157,"y":0.452,"n":2},{"x":0.194,"y":0.452,"n":1},{"x":0.232,"y":0.452,"n":1},{"x":0.25,"y":0.452,"n":1},{"x":0.269,"y":0.452,"n":1},{"x":0.325,"y":0.452,"n":1},{"x":0.362,"y":0.452,"n":1},{"x":0.381,"y":0.452,"n":2},{"x":0.419,"y":0.452,"n":2},{"x":0.437,"y":0.452,"n":1},{"x":0.456,"y":0.452,"n":3},{"x":0.512,"y":0.452,"n":2},{"x":0.531,"y":0.452,"n":2},{"x":0.568,"y":0.452,"n":1},{"x":0.587,"y":0.452,"n":2},{"x":0.606,"y":0.452,"n":1},{"x":0.624,"y":0.452,"n":3},{"x":0.643,"y":0.452,"n":2},{"x":0.699,"y":0.452,"n":1},{"x":0.718,"y":0.452,"n":1},{"x":0.755,"y":0.452,"n":1},{"x":0.811,"y":0.452,"n":1},{"x":0.83,"y":0.452,"n":3},{"x":0.849,"y":0.452,"n":1},{"x":0.867,"y":0.452,"n":1},{"x":0.961,"y":0.452,"n":2},
{"x":0.101,"y":0.434,"n":1},{"x":0.157,"y":0.434,"n":1},{"x":0.288,"y":0.434,"n":1},{"x":0.344,"y":0.434,"n":2},{"x":0.381,"y":0.434,"n":2},{"x":0.4,"y":0.434,"n":1},{"x":0.493,"y":0.434,"n":1},{"x":0.512,"y":0.434,"n":3},{"x":0.587,"y":0.434,"n":1},{"x":0.624,"y":0.434,"n":2},{"x":0.662,"y":0.434,"n":3},{"x":0.68,"y":0.434,"n":1},{"x":0.718,"y":0.434,"n":1},{"x":0.736,"y":0.434,"n":1},{"x":0.83,"y":0.434,"n":1},{"x":0.849,"y":0.434,"n":1},
{"x":0.119,"y":0.416,"n":1},{"x":0.157,"y":0.416,"n":1},{"x":0.175,"y":0.416,"n":1},{"x":0.194,"y":0.416,"n":1},{"x":0.232,"y":0.416,"n":1},{"x":0.25,"y":0.416,"n":3},{"x":0.269,"y":0.416,"n":2},{"x":0.288,"y":0.416,"n":2},{"x":0.306,"y":0.416,"n":1},{"x":0.325,"y":0.416,"n":3},{"x":0.344,"y":0.416,"n":1},{"x":0.4,"y":0.416,"n":2},{"x":0.419,"y":0.416,"n":1},{"x":0.437,"y":0.416,"n":2},{"x":0.493,"y":0.416,"n":2},{"x":0.512,"y":0.416,"n":1},{"x":0.531,"y":0.416,"n":1},{"x":0.549,"y":0.416,"n":1},{"x":0.568,"y":0.416,"n":1},{"x":0.606,"y":0.416,"n":3},{"x":0.662,"y":0.416,"n":3},{"x":0.68,"y":0.416,"n":2},{"x":0.736,"y":0.416,"n":2},{"x":0.755,"y":0.416,"n":3},{"x":0.774,"y":0.416,"n":1},{"x":0.886,"y":0.416,"n":1},{"x":0.905,"y":0.416,"n":1},
{"x":0.063,"y":0.398,"n":1},{"x":0.288,"y":0.398,"n":1},{"x":0.306,"y":0.398,"n":1},{"x":0.325,"y":0.398,"n":2},{"x":0.381,"y":0.398,"n":2},{"x":0.419,"y":0.398,"n":1},{"x":0.437,"y":0.398,"n":1},{"x":0.456,"y":0.398,"n":1},{"x":0.475,"y":0.398,"n":2},{"x":0.493,"y":0.398,"n":1},{"x":0.512,"y":0.398,"n":2},{"x":0.568,"y":0.398,"n":3},{"x":0.587,"y":0.398,"n":1},{"x":0.606,"y":0.398,"n":3},{"x":0.662,"y":0.398,"n":2},{"x":0.68,"y":0.398,"n":2},{"x":0.718,"y":0.398,"n":1},{"x":0.755,"y":0.398,"n":3},{"x":0.774,"y":0.398,"n":3},{"x":0.793,"y":0.398,"n":3},{"x":0.83,"y":0.398,"n":1},{"x":0.849,"y":0.398,"n":2},{"x":0.886,"y":0.398,"n":1},
{"x":0.101,"y":0.38,"n":1},{"x":0.138,"y":0.38,"n":1},{"x":0.194,"y":0.38,"n":1},{"x":0.344,"y":0.38,"n":2},{"x":0.362,"y":0.38,"n":2},{"x":0.381,"y":0.38,"n":1},{"x":0.437,"y":0.38,"n":1},{"x":0.493,"y":0.38,"n":1},{"x":0.549,"y":0.38,"n":1},{"x":0.568,"y":0.38,"n":3},{"x":0.606,"y":0.38,"n":1},{"x":0.68,"y":0.38,"n":1},{"x":0.699,"y":0.38,"n":2},{"x":0.718,"y":0.38,"n":1},{"x":0.774,"y":0.38,"n":1},{"x":0.83,"y":0.38,"n":1},{"x":0.849,"y":0.38,"n":1},{"x":0.867,"y":0.38,"n":1},
{"x":0.082,"y":0.361,"n":1},{"x":0.138,"y":0.361,"n":2},{"x":0.194,"y":0.361,"n":1},{"x":0.232,"y":0.361,"n":1},{"x":0.362,"y":0.361,"n":3},{"x":0.381,"y":0.361,"n":3},{"x":0.419,"y":0.361,"n":3},{"x":0.456,"y":0.361,"n":1},{"x":0.549,"y":0.361,"n":1},{"x":0.568,"y":0.361,"n":1},{"x":0.587,"y":0.361,"n":3},{"x":0.606,"y":0.361,"n":2},{"x":0.624,"y":0.361,"n":1},{"x":0.662,"y":0.361,"n":3},{"x":0.68,"y":0.361,"n":2},{"x":0.699,"y":0.361,"n":1},{"x":0.736,"y":0.361,"n":2},{"x":0.755,"y":0.361,"n":1},{"x":0.774,"y":0.361,"n":1},{"x":0.793,"y":0.361,"n":1},{"x":0.811,"y":0.361,"n":1},{"x":0.83,"y":0.361,"n":1},{"x":0.923,"y":0.361,"n":1},
{"x":0.101,"y":0.343,"n":1},{"x":0.138,"y":0.343,"n":1},{"x":0.157,"y":0.343,"n":1},{"x":0.232,"y":0.343,"n":1},{"x":0.269,"y":0.343,"n":2},{"x":0.325,"y":0.343,"n":1},{"x":0.344,"y":0.343,"n":1},{"x":0.362,"y":0.343,"n":1},{"x":0.4,"y":0.343,"n":1},{"x":0.437,"y":0.343,"n":1},{"x":0.456,"y":0.343,"n":1},{"x":0.475,"y":0.343,"n":1},{"x":0.493,"y":0.343,"n":3},{"x":0.512,"y":0.343,"n":2},{"x":0.568,"y":0.343,"n":1},{"x":0.587,"y":0.343,"n":3},{"x":0.643,"y":0.343,"n":3},{"x":0.699,"y":0.343,"n":2},{"x":0.718,"y":0.343,"n":1},{"x":0.755,"y":0.343,"n":1},{"x":0.774,"y":0.343,"n":1},{"x":0.811,"y":0.343,"n":1},
{"x":0.063,"y":0.325,"n":1},{"x":0.138,"y":0.325,"n":2},{"x":0.175,"y":0.325,"n":2},{"x":0.194,"y":0.325,"n":1},{"x":0.25,"y":0.325,"n":1},{"x":0.269,"y":0.325,"n":2},{"x":0.288,"y":0.325,"n":1},{"x":0.362,"y":0.325,"n":1},{"x":0.381,"y":0.325,"n":1},{"x":0.419,"y":0.325,"n":1},{"x":0.456,"y":0.325,"n":3},{"x":0.493,"y":0.325,"n":2},{"x":0.531,"y":0.325,"n":2},{"x":0.587,"y":0.325,"n":2},{"x":0.643,"y":0.325,"n":1},{"x":0.662,"y":0.325,"n":1},{"x":0.68,"y":0.325,"n":1},{"x":0.699,"y":0.325,"n":1},{"x":0.718,"y":0.325,"n":1},{"x":0.755,"y":0.325,"n":3},{"x":0.83,"y":0.325,"n":1},{"x":0.849,"y":0.325,"n":1},
{"x":0.194,"y":0.307,"n":1},{"x":0.269,"y":0.307,"n":3},{"x":0.288,"y":0.307,"n":1},{"x":0.325,"y":0.307,"n":2},{"x":0.362,"y":0.307,"n":2},{"x":0.381,"y":0.307,"n":1},{"x":0.4,"y":0.307,"n":2},{"x":0.419,"y":0.307,"n":1},{"x":0.437,"y":0.307,"n":2},{"x":0.456,"y":0.307,"n":2},{"x":0.475,"y":0.307,"n":1},{"x":0.531,"y":0.307,"n":2},{"x":0.549,"y":0.307,"n":2},{"x":0.587,"y":0.307,"n":1},{"x":0.699,"y":0.307,"n":1},{"x":0.755,"y":0.307,"n":3},{"x":0.811,"y":0.307,"n":2},{"x":0.867,"y":0.307,"n":1},
{"x":0.082,"y":0.289,"n":1},{"x":0.175,"y":0.289,"n":1},{"x":0.25,"y":0.289,"n":1},{"x":0.269,"y":0.289,"n":1},{"x":0.325,"y":0.289,"n":2},{"x":0.437,"y":0.289,"n":1},{"x":0.456,"y":0.289,"n":1},{"x":0.493,"y":0.289,"n":3},{"x":0.512,"y":0.289,"n":2},{"x":0.587,"y":0.289,"n":3},{"x":0.643,"y":0.289,"n":1},{"x":0.662,"y":0.289,"n":2},{"x":0.699,"y":0.289,"n":2},{"x":0.774,"y":0.289,"n":1},{"x":0.793,"y":0.289,"n":1},{"x":0.886,"y":0.289,"n":2},{"x":0.942,"y":0.289,"n":1},
{"x":0.306,"y":0.271,"n":2},{"x":0.325,"y":0.271,"n":2},{"x":0.456,"y":0.271,"n":1},{"x":0.531,"y":0.271,"n":1},{"x":0.549,"y":0.271,"n":1},{"x":0.568,"y":0.271,"n":1},{"x":0.606,"y":0.271,"n":1},{"x":0.643,"y":0.271,"n":1},{"x":0.68,"y":0.271,"n":1},{"x":0.699,"y":0.271,"n":1},{"x":0.718,"y":0.271,"n":3},{"x":0.736,"y":0.271,"n":1},{"x":0.755,"y":0.271,"n":1},{"x":0.849,"y":0.271,"n":1},{"x":0.886,"y":0.271,"n":1},{"x":0.942,"y":0.271,"n":1},
{"x":0.138,"y":0.253,"n":1},{"x":0.269,"y":0.253,"n":1},{"x":0.325,"y":0.253,"n":1},{"x":0.362,"y":0.253,"n":2},{"x":0.381,"y":0.253,"n":1},{"x":0.4,"y":0.253,"n":1},{"x":0.437,"y":0.253,"n":3},{"x":0.475,"y":0.253,"n":1},{"x":0.549,"y":0.253,"n":1},{"x":0.568,"y":0.253,"n":2},{"x":0.606,"y":0.253,"n":1},{"x":0.624,"y":0.253,"n":1},{"x":0.699,"y":0.253,"n":2},{"x":0.793,"y":0.253,"n":1},{"x":0.811,"y":0.253,"n":1},{"x":0.867,"y":0.253,"n":2},
{"x":0.157,"y":0.234,"n":1},{"x":0.232,"y":0.234,"n":3},{"x":0.306,"y":0.234,"n":1},{"x":0.325,"y":0.234,"n":2},{"x":0.344,"y":0.234,"n":1},{"x":0.493,"y":0.234,"n":1},{"x":0.512,"y":0.234,"n":3},{"x":0.587,"y":0.234,"n":1},{"x":0.606,"y":0.234,"n":2},{"x":0.624,"y":0.234,"n":1},{"x":0.643,"y":0.234,"n":2},{"x":0.662,"y":0.234,"n":1},{"x":0.755,"y":0.234,"n":1},{"x":0.811,"y":0.234,"n":2},{"x":0.849,"y":0.234,"n":2},
{"x":0.119,"y":0.216,"n":1},{"x":0.138,"y":0.216,"n":1},{"x":0.25,"y":0.216,"n":1},{"x":0.288,"y":0.216,"n":1},{"x":0.344,"y":0.216,"n":1},{"x":0.362,"y":0.216,"n":1},{"x":0.437,"y":0.216,"n":3},{"x":0.493,"y":0.216,"n":2},{"x":0.512,"y":0.216,"n":1},{"x":0.549,"y":0.216,"n":1},{"x":0.587,"y":0.216,"n":1},{"x":0.606,"y":0.216,"n":1},{"x":0.774,"y":0.216,"n":1},{"x":0.811,"y":0.216,"n":2},{"x":0.849,"y":0.216,"n":1},{"x":0.905,"y":0.216,"n":3},
{"x":0.082,"y":0.198,"n":1},{"x":0.119,"y":0.198,"n":1},{"x":0.194,"y":0.198,"n":1},{"x":0.269,"y":0.198,"n":1},{"x":0.325,"y":0.198,"n":1},{"x":0.344,"y":0.198,"n":1},{"x":0.362,"y":0.198,"n":1},{"x":0.4,"y":0.198,"n":2},{"x":0.419,"y":0.198,"n":1},{"x":0.456,"y":0.198,"n":2},{"x":0.475,"y":0.198,"n":1},{"x":0.493,"y":0.198,"n":1},{"x":0.568,"y":0.198,"n":1},{"x":0.587,"y":0.198,"n":2},{"x":0.606,"y":0.198,"n":1},{"x":0.624,"y":0.198,"n":1},{"x":0.83,"y":0.198,"n":1},{"x":0.867,"y":0.198,"n":1},{"x":0.905,"y":0.198,"n":2},
{"x":0.119,"y":0.18,"n":1},{"x":0.232,"y":0.18,"n":1},{"x":0.25,"y":0.18,"n":1},{"x":0.288,"y":0.18,"n":1},{"x":0.306,"y":0.18,"n":2},{"x":0.325,"y":0.18,"n":1},{"x":0.4,"y":0.18,"n":1},{"x":0.419,"y":0.18,"n":1},{"x":0.475,"y":0.18,"n":1},{"x":0.531,"y":0.18,"n":1},{"x":0.643,"y":0.18,"n":1},{"x":0.718,"y":0.18,"n":1},{"x":0.774,"y":0.18,"n":1},{"x":0.867,"y":0.18,"n":1},{"x":0.942,"y":0.18,"n":1},
{"x":0.213,"y":0.162,"n":1},{"x":0.306,"y":0.162,"n":1},{"x":0.325,"y":0.162,"n":1},{"x":0.475,"y":0.162,"n":1},{"x":0.531,"y":0.162,"n":1},{"x":0.549,"y":0.162,"n":1},{"x":0.643,"y":0.162,"n":1},{"x":0.662,"y":0.162,"n":1},{"x":0.68,"y":0.162,"n":1},{"x":0.736,"y":0.162,"n":1},{"x":0.774,"y":0.162,"n":2},{"x":0.83,"y":0.162,"n":1},
{"x":0.344,"y":0.144,"n":1},{"x":0.419,"y":0.144,"n":2},{"x":0.456,"y":0.144,"n":3},{"x":0.512,"y":0.144,"n":2},{"x":0.568,"y":0.144,"n":1},{"x":0.643,"y":0.144,"n":1},{"x":0.867,"y":0.144,"n":2},{"x":0.886,"y":0.144,"n":1},
{"x":0.138,"y":0.125,"n":1},{"x":0.4,"y":0.125,"n":1},{"x":0.437,"y":0.125,"n":1},{"x":0.475,"y":0.125,"n":1},{"x":0.587,"y":0.125,"n":1},{"x":0.68,"y":0.125,"n":2},{"x":0.718,"y":0.125,"n":1},{"x":0.755,"y":0.125,"n":1},
{"x":0.288,"y":0.107,"n":1},{"x":0.381,"y":0.107,"n":1},{"x":0.624,"y":0.107,"n":1},{"x":0.68,"y":0.107,"n":1},{"x":0.774,"y":0.107,"n":1},
{"x":0.157,"y":0.089,"n":1},{"x":0.437,"y":0.089,"n":1},{"x":0.475,"y":0.089,"n":1},{"x":0.549,"y":0.089,"n":1},{"x":0.587,"y":0.089,"n":3},{"x":0.793,"y":0.089,"n":1},{"x":0.849,"y":0.089,"n":2},
{"x":0.119,"y":0.071,"n":1},{"x":0.232,"y":0.071,"n":1},{"x":0.774,"y":0.071,"n":1},{"x":0.867,"y":0.071,"n":2},
{"x":0.119,"y":0.053,"n":1},{"x":0.344,"y":0.053,"n":1},{"x":0.699,"y":0.053,"n":1},{"x":0.867,"y":0.053,"n":1}
],
"wh":[
{"width":0.393,"height":0.847,"n":1},{"width":0.535,"height":0.847,"n":1},{"width":0.393,"height":0.799,"n":1},{"width":0.521,"height":0.783,"n":1},{"width":0.364,"height":0.767,"n":1},{"width":0.364,"height":0.751,"n":1},{"width":0.379,"height":0.751,"n":1},{"width":0.464,"height":0.734,"n":1},{"width":0.521,"height":0.734,"n":1},{"width":0.279,"height":0.718,"n":1},{"width":0.279,"height":0.686,"n":1},{"width":0.35,"height":0.686,"n":1},{"width":0.407,"height":0.686,"n":1},{"width":0.293,"height":0.654,"n":1},{"width":0.436,"height":0.654,"n":1},
{"width":0.35,"height":0.638,"n":1},{"width":0.364,"height":0.638,"n":1},{"width":0.379,"height":0.638,"n":1},{"width":0.393,"height":0.638,"n":1},{"width":0.421,"height":0.638,"n":1},{"width":0.45,"height":0.638,"n":1},{"width":0.25,"height":0.622,"n":1},{"width":0.421,"height":0.622,"n":1},{"width":0.436,"height":0.622,"n":1},{"width":0.55,"height":0.622,"n":1},{"width":0.151,"height":0.605,"n":1},{"width":0.379,"height":0.605,"n":1},{"width":0.393,"height":0.605,"n":1},{"width":0.407,"height":0.605,"n":1},{"width":0.535,"height":0.605,"n":1},
{"width":0.193,"height":0.589,"n":1},{"width":0.279,"height":0.589,"n":1},{"width":0.322,"height":0.589,"n":1},{"width":0.336,"height":0.589,"n":2},{"width":0.407,"height":0.589,"n":1},{"width":0.25,"height":0.573,"n":1},{"width":0.293,"height":0.573,"n":1},{"width":0.307,"height":0.573,"n":1},{"width":0.364,"height":0.573,"n":1},{"width":0.393,"height":0.573,"n":1},{"width":0.464,"height":0.573,"n":1},{"width":0.55,"height":0.573,"n":1},
{"width":0.208,"height":0.557,"n":1},{"width":0.25,"height":0.557,"n":1},{"width":0.293,"height":0.557,"n":2},{"width":0.336,"height":0.557,"n":1},{"width":0.35,"height":0.557,"n":2},{"width":0.393,"height":0.557,"n":1},{"width":0.279,"height":0.541,"n":2},{"width":0.322,"height":0.541,"n":3},{"width":0.364,"height":0.541,"n":1},{"width":0.407,"height":0.541,"n":2},{"width":0.421,"height":0.541,"n":1},{"width":0.464,"height":0.541,"n":1},
{"width":0.208,"height":0.525,"n":1},{"width":0.222,"height":0.525,"n":1},{"width":0.25,"height":0.525,"n":1},{"width":0.307,"height":0.525,"n":1},{"width":0.336,"height":0.525,"n":2},{"width":0.364,"height":0.525,"n":2},{"width":0.379,"height":0.525,"n":1},{"width":0.393,"height":0.525,"n":2},{"width":0.464,"height":0.525,"n":1},
{"width":0.236,"height":0.509,"n":2},{"width":0.25,"height":0.509,"n":1},{"width":0.279,"height":0.509,"n":1},{"width":0.293,"height":0.509,"n":2},{"width":0.307,"height":0.509,"n":2},{"width":0.322,"height":0.509,"n":3},{"width":0.336,"height":0.509,"n":1},{"width":0.35,"height":0.509,"n":1},{"width":0.364,"height":0.509,"n":1},{"width":0.379,"height":0.509,"n":1},{"width":0.393,"height":0.509,"n":1},{"width":0.407,"height":0.509,"n":1},{"width":0.436,"height":0.509,"n":1},
{"width":0.222,"height":0.493,"n":1},{"width":0.236,"height":0.493,"n":1},{"width":0.25,"height":0.493,"n":1},{"width":0.265,"height":0.493,"n":1},{"width":0.293,"height":0.493,"n":1},{"width":0.35,"height":0.493,"n":1},{"width":0.379,"height":0.493,"n":1},{"width":0.45,"height":0.493,"n":2},{"width":0.464,"height":0.493,"n":1},{"width":0.578,"height":0.493,"n":1},
{"width":0.236,"height":0.476,"n":1},{"width":0.25,"height":0.476,"n":3},{"width":0.265,"height":0.476,"n":2},{"width":0.279,"height":0.476,"n":1},{"width":0.322,"height":0.476,"n":3},{"width":0.336,"height":0.476,"n":3},{"width":0.35,"height":0.476,"n":2},{"width":0.364,"height":0.476,"n":1},{"width":0.393,"height":0.476,"n":3},
{"width":0.193,"height":0.46,"n":1},{"width":0.236,"height":0.46,"n":1},{"width":0.265,"height":0.46,"n":2},{"width":0.293,"height":0.46,"n":1},{"width":0.307,"height":0.46,"n":2},{"width":0.322,"height":0.46,"n":2},{"width":0.336,"height":0.46,"n":2},{"width":0.35,"height":0.46,"n":1},{"width":0.364,"height":0.46,"n":1},{"width":0.379,"height":0.46,"n":3},{"width":0.407,"height":0.46,"n":1},{"width":0.535,"height":0.46,"n":1},
{"width":0.122,"height":0.444,"n":1},{"width":0.165,"height":0.444,"n":1},{"width":0.179,"height":0.444,"n":1},{"width":0.193,"height":0.444,"n":1},{"width":0.222,"height":0.444,"n":1},{"width":0.236,"height":0.444,"n":2},{"width":0.25,"height":0.444,"n":1},{"width":0.293,"height":0.444,"n":2},{"width":0.307,"height":0.444,"n":1},{"width":0.322,"height":0.444,"n":2},{"width":0.35,"height":0.444,"n":1},{"width":0.379,"height":0.444,"n":1},{"width":0.393,"height":0.444,"n":3},{"width":0.464,"height":0.444,"n":1},{"width":0.521,"height":0.444,"n":1},{"width":0.55,"height":0.444,"n":1},{"width":0.735,"height":0.444,"n":1},
{"width":0.151,"height":0.428,"n":1},{"width":0.179,"height":0.428,"n":1},{"width":0.193,"height":0.428,"n":2},{"width":0.222,"height":0.428,"n":4},{"width":0.236,"height":0.428,"n":2},{"width":0.25,"height":0.428,"n":1},{"width":0.265,"height":0.428,"n":2},{"width":0.279,"height":0.428,"n":3},{"width":0.293,"height":0.428,"n":1},{"width":0.35,"height":0.428,"n":2},{"width":0.379,"height":0.428,"n":1},{"width":0.393,"height":0.428,"n":1},{"width":0.407,"height":0.428,"n":1},{"width":0.593,"height":0.428,"n":1},
{"width":0.193,"height":0.412,"n":2},{"width":0.208,"height":0.412,"n":1},{"width":0.222,"height":0.412,"n":2},{"width":0.236,"height":0.412,"n":2},{"width":0.265,"height":0.412,"n":4},{"width":0.279,"height":0.412,"n":1},{"width":0.293,"height":0.412,"n":1},{"width":0.322,"height":0.412,"n":1},{"width":0.336,"height":0.412,"n":1},{"width":0.35,"height":0.412,"n":1},{"width":0.364,"height":0.412,"n":2},{"width":0.507,"height":0.412,"n":1},
{"width":0.108,"height":0.396,"n":1},{"width":0.165,"height":0.396,"n":1},{"width":0.179,"height":0.396,"n":1},{"width":0.193,"height":0.396,"n":1},{"width":0.222,"height":0.396,"n":2},{"width":0.236,"height":0.396,"n":2},{"width":0.25,"height":0.396,"n":3},{"width":0.265,"height":0.396,"n":3},{"width":0.279,"height":0.396,"n":3},{"width":0.293,"height":0.396,"n":1},{"width":0.307,"height":0.396,"n":1},{"width":0.322,"height":0.396,"n":2},{"width":0.336,"height":0.396,"n":1},{"width":0.35,"height":0.396,"n":2},{"width":0.393,"height":0.396,"n":1},{"width":0.407,"height":0.396,"n":1},{"width":0.478,"height":0.396,"n":1},{"width":0.535,"height":0.396,"n":1},
{"width":0.122,"height":0.38,"n":1},{"width":0.179,"height":0.38,"n":1},{"width":0.193,"height":0.38,"n":1},{"width":0.208,"height":0.38,"n":2},{"width":0.222,"height":0.38,"n":2},{"width":0.236,"height":0.38,"n":2},{"width":0.25,"height":0.38,"n":2},{"width":0.279,"height":0.38,"n":1},{"width":0.293,"height":0.38,"n":1},{"width":0.307,"height":0.38,"n":2},{"width":0.322,"height":0.38,"n":1},{"width":0.364,"height":0.38,"n":2},
{"width":0.151,"height":0.363,"n":1},{"width":0.165,"height":0.363,"n":1},{"width":0.193,"height":0.363,"n":1},{"width":0.222,"height":0.363,"n":3},{"width":0.236,"height":0.363,"n":2},{"width":0.265,"height":0.363,"n":4},{"width":0.279,"height":0.363,"n":2},{"width":0.307,"height":0.363,"n":2},{"width":0.322,"height":0.363,"n":2},{"width":0.35,"height":0.363,"n":1},{"width":0.407,"height":0.363,"n":1},{"width":0.493,"height":0.363,"n":1},{"width":0.507,"height":0.363,"n":1},
{"width":0.079,"height":0.347,"n":1},{"width":0.136,"height":0.347,"n":1},{"width":0.151,"height":0.347,"n":1},{"width":0.165,"height":0.347,"n":1},{"width":0.193,"height":0.347,"n":2},{"width":0.208,"height":0.347,"n":2},{"width":0.222,"height":0.347,"n":2},{"width":0.236,"height":0.347,"n":2},{"width":0.25,"height":0.347,"n":1},{"width":0.265,"height":0.347,"n":1},{"width":0.279,"height":0.347,"n":2},{"width":0.307,"height":0.347,"n":2},{"width":0.322,"height":0.347,"n":2},{"width":0.407,"height":0.347,"n":1},{"width":0.478,"height":0.347,"n":1},
{"width":0.079,"height":0.331,"n":1},{"width":0.108,"height":0.331,"n":1},{"width":0.151,"height":0.331,"n":1},{"width":0.165,"height":0.331,"n":1},{"width":0.179,"height":0.331,"n":2},{"width":0.193,"height":0.331,"n":2},{"width":0.208,"height":0.331,"n":2},{"width":0.222,"height":0.331,"n":3},{"width":0.236,"height":0.331,"n":1},{"width":0.25,"height":0.331,"n":5},{"width":0.265,"height":0.331,"n":1},{"width":0.279,"height":0.331,"n":1},{"width":0.293,"height":0.331,"n":1},{"width":0.322,"height":0.331,"n":1},{"width":0.336,"height":0.331,"n":3},{"width":0.364,"height":0.331,"n":1},{"width":0.393,"height":0.331,"n":1},{"width":0.407,"height":0.331,"n":1},{"width":0.464,"height":0.331,"n":1},{"width":0.478,"height":0.331,"n":1},{"width":0.507,"height":0.331,"n":1},
{"width":0.108,"height":0.315,"n":1},{"width":0.136,"height":0.315,"n":1},{"width":0.151,"height":0.315,"n":1},{"width":0.179,"height":0.315,"n":1},{"width":0.193,"height":0.315,"n":2},{"width":0.208,"height":0.315,"n":3},{"width":0.222,"height":0.315,"n":2},{"width":0.236,"height":0.315,"n":2},{"width":0.25,"height":0.315,"n":2},{"width":0.265,"height":0.315,"n":1},{"width":0.279,"height":0.315,"n":2},{"width":0.293,"height":0.315,"n":1},{"width":0.307,"height":0.315,"n":1},{"width":0.322,"height":0.315,"n":1},{"width":0.336,"height":0.315,"n":1},{"width":0.35,"height":0.315,"n":1},{"width":0.379,"height":0.315,"n":1},{"width":0.421,"height":0.315,"n":1},{"width":0.464,"height":0.315,"n":1},{"width":0.478,"height":0.315,"n":1},
{"width":0.136,"height":0.299,"n":1},{"width":0.151,"height":0.299,"n":1},{"width":0.179,"height":0.299,"n":2},{"width":0.193,"height":0.299,"n":2},{"width":0.208,"height":0.299,"n":5},{"width":0.222,"height":0.299,"n":5},{"width":0.236,"height":0.299,"n":2},{"width":0.25,"height":0.299,"n":3},{"width":0.265,"height":0.299,"n":2},{"width":0.279,"height":0.299,"n":1},{"width":0.293,"height":0.299,"n":2},{"width":0.322,"height":0.299,"n":1},{"width":0.35,"height":0.299,"n":1},{"width":0.364,"height":0.299,"n":1},{"width":0.379,"height":0.299,"n":2},{"width":0.407,"height":0.299,"n":1},{"width":0.45,"height":0.299,"n":1},{"width":0.478,"height":0.299,"n":1},{"width":0.664,"height":0.299,"n":1},
{"width":0.122,"height":0.283,"n":1},{"width":0.136,"height":0.283,"n":2},{"width":0.151,"height":0.283,"n":3},{"width":0.165,"height":0.283,"n":3},{"width":0.179,"height":0.283,"n":3},{"width":0.193,"height":0.283,"n":1},{"width":0.208,"height":0.283,"n":1},{"width":0.222,"height":0.283,"n":2},{"width":0.236,"height":0.283,"n":2},{"width":0.265,"height":0.283,"n":3},{"width":0.307,"height":0.283,"n":1},{"width":0.336,"height":0.283,"n":1},{"width":0.35,"height":0.283,"n":2},{"width":0.379,"height":0.283,"n":1},{"width":0.407,"height":0.283,"n":1},{"width":0.421,"height":0.283,"n":2},
{"width":0.108,"height":0.267,"n":1},{"width":0.122,"height":0.267,"n":1},{"width":0.151,"height":0.267,"n":3},{"width":0.165,"height":0.267,"n":1},{"width":0.179,"height":0.267,"n":1},{"width":0.193,"height":0.267,"n":4},{"width":0.208,"height":0.267,"n":1},{"width":0.222,"height":0.267,"n":1},{"width":0.236,"height":0.267,"n":3},{"width":0.25,"height":0.267,"n":1},{"width":0.265,"height":0.267,"n":1},{"width":0.279,"height":0.267,"n":1},{"width":0.293,"height":0.267,"n":1},{"width":0.322,"height":0.267,"n":1},{"width":0.35,"height":0.267,"n":2},{"width":0.379,"height":0.267,"n":1},{"width":0.393,"height":0.267,"n":1},{"width":0.407,"height":0.267,"n":1},{"width":0.464,"height":0.267,"n":1},{"width":0.635,"height":0.267,"n":1},
{"width":0.094,"height":0.251,"n":2},{"width":0.108,"height":0.251,"n":1},{"width":0.122,"height":0.251,"n":3},{"width":0.136,"height":0.251,"n":2},{"width":0.151,"height":0.251,"n":3},{"width":0.179,"height":0.251,"n":5},{"width":0.193,"height":0.251,"n":5},{"width":0.208,"height":0.251,"n":3},{"width":0.222,"height":0.251,"n":2},{"width":0.236,"height":0.251,"n":4},{"width":0.25,"height":0.251,"n":1},{"width":0.265,"height":0.251,"n":3},{"width":0.279,"height":0.251,"n":1},{"width":0.293,"height":0.251,"n":2},{"width":0.307,"height":0.251,"n":1},{"width":0.322,"height":0.251,"n":1},{"width":0.336,"height":0.251,"n":1},{"width":0.35,"height":0.251,"n":1},{"width":0.364,"height":0.251,"n":2},{"width":0.421,"height":0.251,"n":1},{"width":0.55,"height":0.251,"n":1},{"width":0.607,"height":0.251,"n":1},{"width":0.65,"height":0.251,"n":1},
{"width":0.108,"height":0.234,"n":1},{"width":0.122,"height":0.234,"n":3},{"width":0.136,"height":0.234,"n":3},{"width":0.151,"height":0.234,"n":1},{"width":0.165,"height":0.234,"n":4},{"width":0.179,"height":0.234,"n":4},{"width":0.193,"height":0.234,"n":5},{"width":0.208,"height":0.234,"n":2},{"width":0.222,"height":0.234,"n":4},{"width":0.236,"height":0.234,"n":1},{"width":0.25,"height":0.234,"n":1},{"width":0.265,"height":0.234,"n":1},{"width":0.279,"height":0.234,"n":1},{"width":0.293,"height":0.234,"n":3},{"width":0.322,"height":0.234,"n":1},{"width":0.336,"height":0.234,"n":1},{"width":0.35,"height":0.234,"n":1},{"width":0.364,"height":0.234,"n":1},{"width":0.421,"height":0.234,"n":1},{"width":0.464,"height":0.234,"n":1},{"width":0.535,"height":0.234,"n":1},
{"width":0.094,"height":0.218,"n":2},{"width":0.108,"height":0.218,"n":1},{"width":0.122,"height":0.218,"n":4},{"width":0.136,"height":0.218,"n":3},{"width":0.151,"height":0.218,"n":5},{"width":0.165,"height":0.218,"n":4},{"width":0.179,"height":0.218,"n":5},{"width":0.193,"height":0.218,"n":6},{"width":0.208,"height":0.218,"n":4},{"width":0.222,"height":0.218,"n":3},{"width":0.236,"height":0.218,"n":3},{"width":0.25,"height":0.218,"n":1},{"width":0.265,"height":0.218,"n":3},{"width":0.279,"height":0.218,"n":1},{"width":0.307,"height":0.218,"n":2},{"width":0.322,"height":0.218,"n":1},{"width":0.336,"height":0.218,"n":1},{"width":0.379,"height":0.218,"n":2},{"width":0.421,"height":0.218,"n":1},
{"width":0.065,"height":0.202,"n":1},{"width":0.094,"height":0.202,"n":1},{"width":0.108,"height":0.202,"n":2},{"width":0.122,"height":0.202,"n":6},{"width":0.136,"height":0.202,"n":5},{"width":0.151,"height":0.202,"n":4},{"width":0.165,"height":0.202,"n":4},{"width":0.179,"height":0.202,"n":1},{"width":0.193,"height":0.202,"n":2},{"width":0.208,"height":0.202,"n":3},{"width":0.222,"height":0.202,"n":2},{"width":0.236,"height":0.202,"n":1},{"width":0.25,"height":0.202,"n":1},{"width":0.265,"height":0.202,"n":1},{"width":0.293,"height":0.202,"n":2},{"width":0.35,"height":0.202,"n":1},{"width":0.393,"height":0.202,"n":1},{"width":0.407,"height":0.202,"n":1},{"width":0.578,"height":0.202,"n":1},
{"width":0.079,"height":0.186,"n":1},{"width":0.094,"height":0.186,"n":1},{"width":0.108,"height":0.186,"n":3},{"width":0.122,"height":0.186,"n":4},{"width":0.136,"height":0.186,"n":5},{"width":0.151,"height":0.186,"n":5},{"width":0.165,"height":0.186,"n":5},{"width":0.179,"height":0.186,"n":4},{"width":0.193,"height":0.186,"n":1},{"width":0.208,"height":0.186,"n":3},{"width":0.222,"height":0.186,"n":3},{"width":0.236,"height":0.186,"n":2},{"width":0.25,"height":0.186,"n":1},{"width":0.265,"height":0.186,"n":3},{"width":0.307,"height":0.186,"n":1},{"width":0.322,"height":0.186,"n":2},{"width":0.35,"height":0.186,"n":1},{"width":0.379,"height":0.186,"n":1},
{"width":0.065,"height":0.17,"n":1},{"width":0.079,"height":0.17,"n":1},{"width":0.094,"height":0.17,"n":2},{"width":0.108,"height":0.17,"n":1},{"width":0.122,"height":0.17,"n":5},{"width":0.136,"height":0.17,"n":5},{"width":0.151,"height":0.17,"n":5},{"width":0.165,"height":0.17,"n":4},{"width":0.179,"height":0.17,"n":4},{"width":0.193,"height":0.17,"n":1},{"width":0.208,"height":0.17,"n":4},{"width":0.222,"height":0.17,"n":1},{"width":0.236,"height":0.17,"n":1},{"width":0.25,"height":0.17,"n":2},{"width":0.265,"height":0.17,"n":2},{"width":0.279,"height":0.17,"n":2},{"width":0.293,"height":0.17,"n":1},{"width":0.307,"height":0.17,"n":1},
{"width":0.065,"height":0.154,"n":1},{"width":0.079,"height":0.154,"n":2},{"width":0.094,"height":0.154,"n":5},{"width":0.108,"height":0.154,"n":4},{"width":0.122,"height":0.154,"n":6},{"width":0.136,"height":0.154,"n":6},{"width":0.151,"height":0.154,"n":5},{"width":0.165,"height":0.154,"n":5},{"width":0.179,"height":0.154,"n":4},{"width":0.193,"height":0.154,"n":1},{"width":0.208,"height":0.154,"n":2},{"width":0.222,"height":0.154,"n":1},{"width":0.236,"height":0.154,"n":2},{"width":0.279,"height":0.154,"n":1},{"width":0.322,"height":0.154,"n":1},{"width":0.336,"height":0.154,"n":1},{"width":0.393,"height":0.154,"n":1},
{"width":0.079,"height":0.138,"n":1},{"width":0.094,"height":0.138,"n":4},{"width":0.108,"height":0.138,"n":6},{"width":0.122,"height":0.138,"n":5},{"width":0.136,"height":0.138,"n":5},{"width":0.151,"height":0.138,"n":5},{"width":0.165,"height":0.138,"n":4},{"width":0.179,"height":0.138,"n":1},{"width":0.193,"height":0.138,"n":2},{"width":0.208,"height":0.138,"n":1},{"width":0.222,"height":0.138,"n":1},{"width":0.236,"height":0.138,"n":1},{"width":0.265,"height":0.138,"n":1},{"width":0.293,"height":0.138,"n":1},
{"width":0.051,"height":0.121,"n":1},{"width":0.065,"height":0.121,"n":1},{"width":0.079,"height":0.121,"n":3},{"width":0.094,"height":0.121,"n":6},{"width":0.108,"height":0.121,"n":5},{"width":0.122,"height":0.121,"n":6},{"width":0.136,"height":0.121,"n":4},{"width":0.151,"height":0.121,"n":2},{"width":0.165,"height":0.121,"n":1},{"width":0.179,"height":0.121,"n":3},{"width":0.208,"height":0.121,"n":1},{"width":0.222,"height":0.121,"n":1},{"width":0.236,"height":0.121,"n":1},{"width":0.25,"height":0.121,"n":1},{"width":0.322,"height":0.121,"n":1},
{"width":0.051,"height":0.105,"n":2},{"width":0.065,"height":0.105,"n":3},{"width":0.079,"height":0.105,"n":5},{"width":0.094,"height":0.105,"n":6},{"width":0.108,"height":0.105,"n":5},{"width":0.122,"height":0.105,"n":5},{"width":0.136,"height":0.105,"n":4},{"width":0.151,"height":0.105,"n":3},{"width":0.208,"height":0.105,"n":1},{"width":0.236,"height":0.105,"n":1},{"width":0.25,"height":0.105,"n":3},{"width":0.279,"height":0.105,"n":1},{"width":0.307,"height":0.105,"n":1},
{"width":0.051,"height":0.089,"n":3},{"width":0.065,"height":0.089,"n":6},{"width":0.079,"height":0.089,"n":6},{"width":0.094,"height":0.089,"n":6},{"width":0.108,"height":0.089,"n":5},{"width":0.122,"height":0.089,"n":3},{"width":0.136,"height":0.089,"n":1},{"width":0.151,"height":0.089,"n":1},{"width":0.208,"height":0.089,"n":1},{"width":0.222,"height":0.089,"n":1},{"width":0.25,"height":0.089,"n":1},
{"width":0.051,"height":0.073,"n":2},{"width":0.065,"height":0.073,"n":6},{"width":0.079,"height":0.073,"n":6},{"width":0.094,"height":0.073,"n":6},{"width":0.108,"height":0.073,"n":3},{"width":0.122,"height":0.073,"n":2},{"width":0.136,"height":0.073,"n":1},{"width":0.193,"height":0.073,"n":1},{"width":0.25,"height":0.073,"n":1},
{"width":0.065,"height":0.057,"n":4},{"width":0.079,"height":0.057,"n":5},{"width":0.094,"height":0.057,"n":2},{"width":0.108,"height":0.057,"n":2}
]
},
"bounds":"flush",
"columns":2,
"spacing":{"row":160,"column":148},
"resolve":{"scale":{"color":"independent"}},
"concat":[
{"width":630,"height":643,"data":{"name":"bars"},
"mark":{"type":"bar"},
"encoding":{
"x":{"field":"name","type":"nominal","sort":null,"title":null,"scale":{"paddingInner":0.18,"paddingOuter":0.186},"axis":{"labelAngle":270,"labelAlign":"right","labelBaseline":"middle","labelPadding":12,"labelFontSize":27.5,"labelOffset":-2}},
"y":{"field":"count","type":"quantitative","title":"instances","scale":{"domain":[0,455.7],"nice":false},"axis":{"values":[0,100,200,300,400],"titlePadding":11,"titleY":318}},
"color":{"field":"name","type":"nominal","sort":null,"legend":null,"scale":{"domain":["flower","health","ripe","fruit"],"range":["#ff3838","#ff9d97","#ff701f","#ffb21d"]}}}},
{"width":632,"height":632,"data":{"name":"boxes"},
"encoding":{
"x":{"field":"x1","type":"quantitative","scale":{"domain":[0.0016,1.0016],"nice":false,"zero":false},"axis":null},
"x2":{"field":"x2"},
"y":{"field":"y1","type":"quantitative","scale":{"domain":[0,1],"nice":false,"zero":false},"axis":null},
"y2":{"field":"y2"},
"color":{"field":"cls","type":"nominal","legend":null,"scale":{"domain":["flower","health","ripe","fruit"],"range":["#ff3838","#ff9d97","#ff701f","#ffb21d"]}}},
"layer":[
{"mark":{"type":"rect","filled":false,"strokeWidth":1.3,"opacity":0.5}},
{"transform":[{"filter":"datum.x1>0.31 && datum.y1>0.23"}],"mark":{"type":"rect","filled":false,"strokeWidth":2,"opacity":0.85}}
]},
{"width":639,"height":632,"data":{"name":"xy"},
"mark":{"type":"rect","width":11.8,"height":12.2},
"encoding":{
"x":{"field":"x","type":"quantitative","title":"x","scale":{"domain":[-0.0114,1.029],"nice":false,"zero":false},"axis":{"values":[0,0.2,0.4,0.6,0.8,1],"format":".1f","titlePadding":9,"titleX":314}},
"y":{"field":"y","type":"quantitative","title":"y","scale":{"domain":[0,0.967],"nice":false,"zero":false},"axis":{"values":[0,0.2,0.4,0.6,0.8],"format":".1f","titlePadding":11,"titleY":306}},
"color":{"field":"n","type":"ordinal","legend":null,"scale":{"domain":[1,2,3],"range":["#2e9ff3","#3577b5","#3b4f70"]}}}},
{"width":639,"height":632,"data":{"name":"wh"},
"mark":{"type":"rect","width":11.8,"height":12.2},
"encoding":{
"x":{"field":"width","type":"quantitative","title":"width","scale":{"domain":[0.0075,0.8037],"nice":false,"zero":false},"axis":{"values":[0.2,0.4,0.6],"format":".1f","titlePadding":9,"titleX":314}},
"y":{"field":"height","type":"quantitative","title":"height","scale":{"domain":[0.0117,0.8704],"nice":false,"zero":false},"axis":{"values":[0.1,0.2,0.3,0.4,0.5,0.6,0.7,0.8],"format":".1f","titlePadding":10,"titleY":310}},
"color":{"field":"n","type":"ordinal","legend":null,"scale":{"domain":[1,2,3,4,5,6],"range":["#90bbef","#6fb0f3","#3ca4f2","#2b88d3","#3a75ad","#3b5071"]}}}}
]
}
